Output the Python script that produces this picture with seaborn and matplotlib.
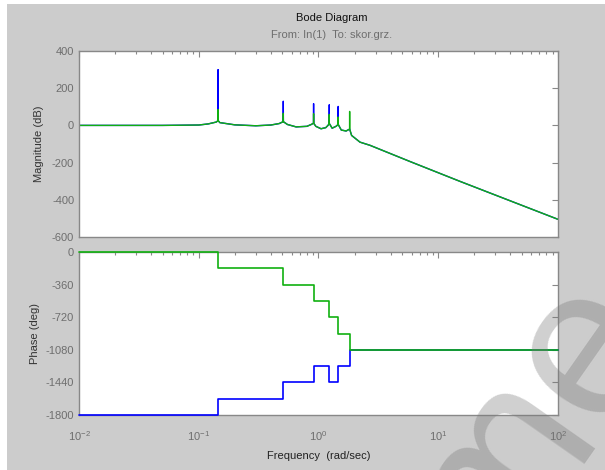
import matplotlib
matplotlib.use("Agg")
import matplotlib.pyplot as plt
import matplotlib.ticker as mticker
from matplotlib.patches import Rectangle
import seaborn as sns

sns.set_theme(style="white")
plt.rcParams['font.family'] = ['Liberation Sans', 'DejaVu Sans']
plt.rcParams['axes.unicode_minus'] = False

# magnitude curve (rad/sec, dB)
mag_freq = [0.01, 0.05, 0.1, 0.12, 0.14, 0.1445, 0.145, 0.1455, 0.15, 0.2, 0.3, 0.4, 0.47,
            0.507, 0.508, 0.509, 0.55, 0.65, 0.8, 0.87, 0.909, 0.91, 0.911, 0.95, 1.05,
            1.15, 1.2, 1.229, 1.23, 1.231, 1.3, 1.4, 1.459, 1.46, 1.461, 1.55, 1.7,
            1.819, 1.82, 1.821, 1.89, 2.22, 2.69, 5.8, 15.2, 100]
mag_blue = [0, 0, 2, 8, 18, 25, 300, 25, 15, 3, -2, 2, 10,
            20, 130, 20, 5, -8, -5, 5, 12, 117, 12, -5, -18,
            -12, 0, 10, 111, 10, -15, -5, 5, 102, 5, -25, -30,
            -20, -20, -20, -54, -90, -107, -194, -301, -505]
mag_green = [0, 0, 2, 8, 18, 25, 85, 25, 15, 3, -2, 2, 10,
             20, 65, 20, 5, -8, -5, 5, 12, 63, 12, -5, -18,
             -12, 0, 10, 59, 10, -15, -5, 5, 45, 5, -25, -30,
             -20, 75, -20, -54, -90, -107, -194, -301, -505]

# phase steps (deg)
ph_freq = [0.01, 0.145, 0.508, 0.91, 1.23, 1.46, 1.82, 100]
ph_blue = [-1800, -1620, -1440, -1260, -1440, -1260, -1080, -1080]
ph_green = [0, -180, -360, -540, -720, -900, -1080, -1080]

blue = "#0000ff"
green = "#10b010"
grey_txt = "#6e6e6e"
spine = "#888888"

fig = plt.figure(figsize=(6.05, 4.7), dpi=100, facecolor="white")
W, H = 605, 470
fig.patches.append(Rectangle((7 / W, 0), 1, 1 - 4 / H, transform=fig.transFigure,
                             facecolor="#cccccc", edgecolor="none", zorder=-10))

ax1 = fig.add_axes([79 / W, 1 - 237 / H, 479 / W, 186 / H])
ax2 = fig.add_axes([79 / W, 1 - 415 / H, 479 / W, 163 / H])

sns.lineplot(x=mag_freq, y=mag_blue, ax=ax1, color=blue, lw=1, sort=False)
sns.lineplot(x=mag_freq, y=mag_green, ax=ax1, color=green, lw=1, sort=False)
sns.lineplot(x=ph_freq, y=ph_blue, ax=ax2, color=blue, lw=1.2, drawstyle="steps-post",
             clip_on=False, zorder=5)
sns.lineplot(x=ph_freq, y=ph_green, ax=ax2, color=green, lw=1.2, drawstyle="steps-post",
             clip_on=False, zorder=5)

for ax in (ax1, ax2):
    ax.set_facecolor("white")
    ax.set_xscale("log")
    ax.set_xlim(0.01, 100)
    ax.xaxis.set_major_locator(mticker.LogLocator(base=10))
    ax.xaxis.set_minor_locator(mticker.LogLocator(base=10, subs=range(2, 10)))
    ax.tick_params(which="both", direction="in", top=True, right=True,
                   colors=spine, labelcolor=grey_txt, labelsize=8)
    ax.tick_params(which="major", length=4, width=0.8)
    ax.tick_params(which="minor", length=2.5, width=0.8)
    for s in ax.spines.values():
        s.set_color(spine)
        s.set_linewidth(1)
    ax.set_xlabel("")
    ax.grid(False)

ax1.set_ylim(-600, 400)
ax1.set_yticks([400, 200, 0, -200, -400, -600])
ax1.tick_params(labelbottom=False)
ax1.set_ylabel("Magnitude (dB)", fontsize=8, color="#333333", labelpad=6)

ax2.set_ylim(-1800, 0)
ax2.set_yticks([0, -360, -720, -1080, -1440, -1800])
ax2.set_ylabel("Phase (deg)", fontsize=8, color="#333333", labelpad=4)
ax2.xaxis.set_major_formatter(mticker.LogFormatterSciNotation())
ax2.set_xlabel("Frequency  (rad/sec)", fontsize=8, color="#222222", labelpad=6)
ax2.tick_params(axis="x", pad=10)

fig.text(332 / W, 1 - 18 / H, "Bode Diagram", ha="center", va="center",
         fontsize=8, color="#111111")
fig.text(332 / W, 1 - 35 / H, "From: In(1)  To: skor.grz.", ha="center", va="center",
         fontsize=8, color=grey_txt)

# watermark
fig.text(535 / W, 1 - 418 / H, "me", ha="center", va="center", rotation=55,
         fontsize=155, color="#777777", alpha=0.35, zorder=20)

fig.savefig("out.png", dpi=100, facecolor=fig.get_facecolor())
